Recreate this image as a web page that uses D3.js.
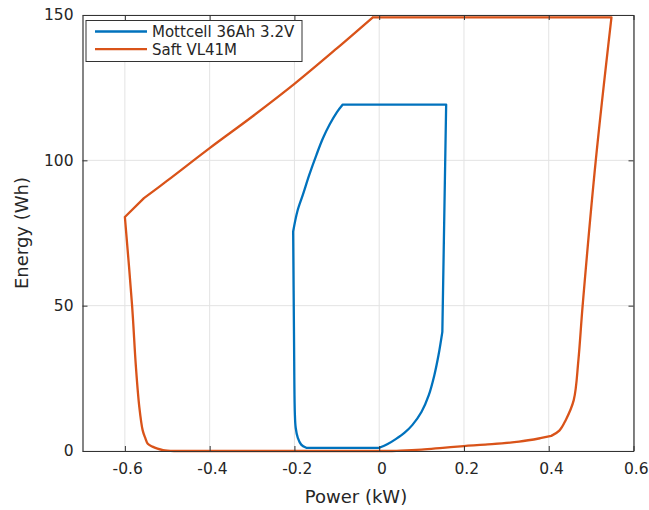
<!DOCTYPE html>
<html>
<head>
<meta charset="utf-8">
<script src="https://cdn.jsdelivr.net/npm/d3@7"></script>
<style>
  html, body { margin: 0; padding: 0; background: #fff; }
  svg { display: block; font-family: "DejaVu Sans", sans-serif; }
</style>
</head>
<body>
<svg id="chart" width="649" height="510"></svg>
<script>
// Energy vs power envelopes of two cells (kW, Wh)
const seriesNames = ["Mottcell 36Ah 3.2V", "Saft VL41M"];
const seriesColors = ["#0072BD", "#D95319"];

const mottcellPower = [0, -0.172, -0.184, -0.192, -0.197, -0.199, -0.201, -0.203, -0.193, -0.18, -0.165, -0.148, -0.133, -0.117, -0.1, -0.086, 0.158, 0.149, 0.14, 0.13, 0.117, 0.1, 0.078, 0.06, 0.039, 0.02, 0];
const mottcellEnergy = [1.1, 1.1, 2.2, 4.5, 8, 13, 40, 75.5, 82.5, 88.2, 95, 101.9, 107.5, 112.3, 116.5, 119.2, 119.2, 41, 33, 26, 19.2, 13.5, 8.9, 6.3, 4.1, 2.4, 1.1];
// indices where the outline has a sharp corner
const mottcellCorners = [0, 1, 7, 15, 16, 17, 26];

const saftPower = [-0.015, 0.548, 0.511, 0.48, 0.47, 0.459, 0.44, 0.425, 0.406, 0.38, 0.33, 0.25, 0.2, 0.15, 0.1, 0.05, 0.03, -0.484, -0.51, -0.523, -0.535, -0.546, -0.552, -0.558, -0.566, -0.574, -0.583, -0.6, -0.555, -0.5, -0.4, -0.3, -0.2, -0.1, -0.015];
const saftEnergy = [149.2, 149.2, 100, 50, 31.3, 17.5, 10.6, 7, 5.2, 4.4, 3.2, 2.2, 1.7, 1.1, 0.5, 0.1, 0, 0, 0.3, 0.8, 1.5, 2.5, 4.5, 7.1, 15.2, 29, 50, 80.5, 87, 93, 104.2, 115, 126.3, 138.5, 149.2];
const saftCorners = [0, 1, 8, 16, 17, 27, 28, 34];

const xTicks = [-0.6, -0.4, -0.2, 0, 0.2, 0.4, 0.6];
const yTicks = [0, 50, 100, 150];

const svg = d3.select("#chart");
const plotLeft = 82.5, plotRight = 633.5, plotTop = 15, plotBottom = 451;
const x = d3.scaleLinear().domain([-0.7, 0.6]).range([plotLeft, plotRight]);
const y = d3.scaleLinear().domain([0, 150]).range([plotBottom, plotTop]);
const axisColor = "#333333";

// grid
const grid = svg.append("g");
grid.selectAll("line.gx").data(xTicks).join("line")
  .attr("x1", d => x(d)).attr("x2", d => x(d))
  .attr("y1", plotTop).attr("y2", plotBottom)
  .attr("stroke", "#e3e3e3").attr("stroke-width", 1);
grid.selectAll("line.gy").data(yTicks).join("line")
  .attr("x1", plotLeft).attr("x2", plotRight)
  .attr("y1", d => y(d)).attr("y2", d => y(d))
  .attr("stroke", "#e3e3e3").attr("stroke-width", 1);

// curves: smooth runs between corner points, joined into one path
const series = [
  { name: seriesNames[0], color: seriesColors[0], pts: mottcellPower.map((p, i) => [p, mottcellEnergy[i]]), corners: mottcellCorners },
  { name: seriesNames[1], color: seriesColors[1], pts: saftPower.map((p, i) => [p, saftEnergy[i]]), corners: saftCorners }
];
const smooth = d3.line().x(d => x(d[0])).y(d => y(d[1])).curve(d3.curveCatmullRom.alpha(0.5));
function outline(s) {
  let d = "";
  for (let k = 0; k < s.corners.length - 1; k++) {
    const run = s.pts.slice(s.corners[k], s.corners[k + 1] + 1);
    let seg = smooth(run);
    if (k > 0) seg = seg.replace(/^M[^A-Za-z]*/, "");
    d += seg;
  }
  return d;
}

svg.append("defs").append("clipPath").attr("id", "plotClip")
  .append("rect").attr("x", plotLeft).attr("y", plotTop - 2)
  .attr("width", plotRight - plotLeft).attr("height", plotBottom - plotTop + 4);

svg.append("g").attr("clip-path", "url(#plotClip)")
  .selectAll("path").data(series).join("path")
  .attr("d", d => outline(d))
  .attr("fill", "none")
  .attr("stroke", d => d.color)
  .attr("stroke-width", 2.3)
  .attr("stroke-linejoin", "round")
  .attr("stroke-linecap", "round");

// axes with inward ticks
const tick = 5;
const xAxisB = d3.axisBottom(x).tickValues(xTicks).tickSizeInner(-tick).tickSizeOuter(0).tickPadding(12)
  .tickFormat(d => d === 0 ? "0" : d3.format(".1f")(d).replace("−", "-"));
const yAxisL = d3.axisLeft(y).tickValues(yTicks).tickSizeInner(-tick).tickSizeOuter(0).tickPadding(9)
  .tickFormat(d3.format("d"));

const gx = svg.append("g").attr("transform", `translate(0,${plotBottom})`).call(xAxisB);
const gy = svg.append("g").attr("transform", `translate(${plotLeft},0)`).call(yAxisL);
const gxt = svg.append("g").attr("transform", `translate(0,${plotTop})`)
  .call(d3.axisTop(x).tickValues(xTicks).tickSizeInner(-tick).tickSizeOuter(0).tickFormat(""));
const gyr = svg.append("g").attr("transform", `translate(${plotRight},0)`)
  .call(d3.axisRight(y).tickValues(yTicks).tickSizeInner(-tick).tickSizeOuter(0).tickFormat(""));

[gx, gy, gxt, gyr].forEach(g => {
  g.select(".domain").attr("stroke", axisColor).attr("stroke-width", 1.2);
  g.selectAll(".tick line").attr("stroke", axisColor).attr("stroke-width", 1);
  g.selectAll(".tick text").attr("fill", "#262626").style("font-size", "15.5px")
    .style("font-family", "'DejaVu Sans', sans-serif");
});
gx.selectAll(".tick text").attr("dx", "0.15em");

// axis titles
svg.append("text").attr("x", (plotLeft + plotRight) / 2 - 2).attr("y", 503)
  .attr("text-anchor", "middle").attr("fill", "#262626")
  .style("font-size", "18px").text("Power (kW)");
svg.append("text").attr("transform", `translate(28,${(plotTop + plotBottom) / 2}) rotate(-90)`)
  .attr("text-anchor", "middle").attr("fill", "#262626")
  .style("font-size", "18px").text("Energy (Wh)");

// legend
const lg = svg.append("g");
lg.append("rect").attr("x", 86).attr("y", 20.5).attr("width", 216).attr("height", 41)
  .attr("fill", "#fff").attr("stroke", axisColor).attr("stroke-width", 1);
series.forEach((s, i) => {
  const ly = 31.5 + i * 17.7;
  lg.append("line").attr("x1", 95).attr("x2", 147).attr("y1", ly).attr("y2", ly)
    .attr("stroke", s.color).attr("stroke-width", 2.3);
  lg.append("text").attr("x", 152).attr("y", ly).attr("dy", "0.36em")
    .attr("fill", "#262626").style("font-size", "15px").text(s.name);
});
</script>
</body>
</html>
